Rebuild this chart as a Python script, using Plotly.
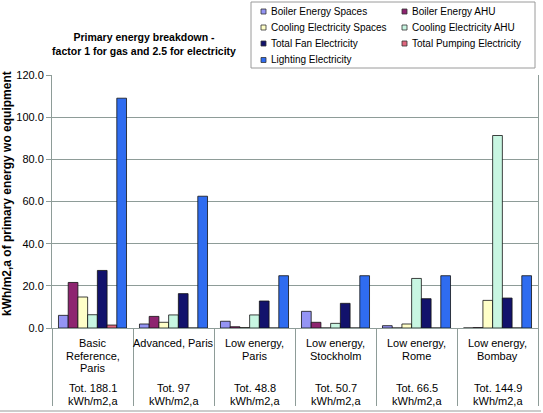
import plotly.graph_objects as go

# ---------------- data ----------------
categories = ["Basic Reference, Paris", "Advanced, Paris", "Low energy, Paris",
              "Low energy, Stockholm", "Low energy, Rome", "Low energy, Bombay"]
category_lines = [["Basic", "Reference,", "Paris"], ["Advanced, Paris"],
                  ["Low energy,", "Paris"], ["Low energy,", "Stockholm"],
                  ["Low energy,", "Rome"], ["Low energy,", "Bombay"]]
totals = ["188.1", "97", "48.8", "50.7", "66.5", "144.9"]

series_names = ["Boiler Energy Spaces", "Boiler Energy AHU", "Cooling Electricity Spaces",
                "Cooling Electricity AHU", "Total Fan Electricity", "Total Pumping Electricity",
                "Lighting Electricity"]
boiler_spaces = [6.0, 1.9, 3.2, 7.9, 1.1, 0.0]
boiler_ahu = [21.6, 5.5, 0.6, 2.7, 0.0, 0.2]
cooling_spaces = [14.7, 2.7, 0.2, 0.0, 1.9, 13.1]
cooling_ahu = [6.3, 6.2, 6.2, 2.2, 23.5, 91.3]
fan = [27.3, 16.3, 12.8, 11.7, 13.9, 14.2]
pumping = [1.4, 0.0, 0.0, 0.0, 0.0, 0.0]
lighting = [109.0, 62.5, 24.8, 24.8, 24.8, 24.8]
series_values = [boiler_spaces, boiler_ahu, cooling_spaces, cooling_ahu, fan, pumping, lighting]
colors = ["#9494f4", "#8e2470", "#ffffc8", "#c8f6e2", "#12126c", "#e0667e", "#2f6cf0"]

# ---------------- layout geometry ----------------
W, H = 543, 413
ML, MR, MT, MB = 52, 5, 75, 85
PW, PH = W - ML - MR, H - MT - MB
FONT = "Arial, Liberation Sans, sans-serif"
GRID = "#8e9c98"


def px2x(px):
    return (px - ML) / PW


def px2y(py):
    return (H - MB - py) / PH


fig = go.Figure()
for name, vals, col in zip(series_names, series_values, colors):
    fig.add_trace(go.Bar(x=categories, y=vals, name=name, showlegend=False,
                         marker=dict(color=col, line=dict(color="#111111", width=0.8))))

shapes = []
annotations = []

# category labels (below axis)
line_h = 12.7
for cat, lines, tot in zip(categories, category_lines, totals):
    for i, ln in enumerate(lines):
        annotations.append(dict(x=cat, xref="x", y=px2y(343 + i * line_h), yref="paper",
                                text=ln, showarrow=False, xanchor="center", yanchor="middle",
                                font=dict(family=FONT, size=11, color="black")))
    for i, ln in enumerate(["Tot. " + tot, "kWh/m2,a"]):
        annotations.append(dict(x=cat, xref="x", y=px2y(388 + i * line_h), yref="paper",
                                text=ln, showarrow=False, xanchor="center", yanchor="middle",
                                font=dict(family=FONT, size=11, color="black")))

# y-axis title
annotations.append(dict(x=px2x(7), xref="paper", y=px2y(194), yref="paper",
                        text="<b>kWh/m2,a of primary energy wo equipment</b>", textangle=-90,
                        showarrow=False, xanchor="center", yanchor="middle",
                        font=dict(family=FONT, size=12, color="black")))

# legend box
shapes.append(dict(type="rect", xref="paper", yref="paper", x0=px2x(251), x1=px2x(535),
                   y0=px2y(68), y1=px2y(2), line=dict(color="#9a9a9a", width=1),
                   fillcolor="white", layer="above"))
col_x = [261, 402]
row_y = [11.5, 27.5, 43.5, 60]
for k, (name, col) in enumerate(zip(series_names, colors)):
    cx = col_x[k % 2]
    cy = row_y[k // 2]
    shapes.append(dict(type="rect", xref="paper", yref="paper", x0=px2x(cx), x1=px2x(cx + 5),
                       y0=px2y(cy + 2.5), y1=px2y(cy - 2.5), fillcolor=col,
                       line=dict(color="#333333", width=0.8), layer="above"))
    annotations.append(dict(x=px2x(cx + 8), xref="paper", y=px2y(cy), yref="paper",
                            text=name, showarrow=False, xanchor="left", yanchor="middle",
                            font=dict(family=FONT, size=10, color="black")))

# chart bottom border
shapes.append(dict(type="line", xref="paper", yref="paper", x0=px2x(0), x1=px2x(541),
                   y0=px2y(411), y1=px2y(411), line=dict(color="#9a9a9a", width=1.2)))

fig.update_layout(
    width=W, height=H,
    margin=dict(l=ML, r=MR, t=MT, b=MB),
    paper_bgcolor="white", plot_bgcolor="white",
    barmode="group", bargap=0.16, bargroupgap=0,
    title=dict(text="Primary energy breakdown -<br>factor 1 for gas and 2.5 for electricity",
               x=144 / W, xref="container", xanchor="center",
               y=1 - 41 / H, yref="container", yanchor="middle",
               font=dict(family=FONT, size=10.5, color="black", weight="bold")),
    shapes=shapes, annotations=annotations,
    xaxis=dict(type="category", showticklabels=False, ticks="outside", tickson="boundaries",
               ticklen=77, tickcolor=GRID, tickwidth=1, showline=True, linecolor=GRID,
               showgrid=False, zeroline=False),
    yaxis=dict(range=[0, 120], dtick=20, tickformat=".1f", ticks="outside", ticklen=5,
               tickcolor=GRID, showline=True, linecolor=GRID, mirror=True,
               showgrid=True, gridcolor=GRID, gridwidth=1, zeroline=False,
               tickfont=dict(family=FONT, size=11, color="black")),
    showlegend=False,
)

fig.write_html("out.html", config={"displayModeBar": False},
               post_script="document.body.style.margin='0px';document.body.style.padding='0px';")
